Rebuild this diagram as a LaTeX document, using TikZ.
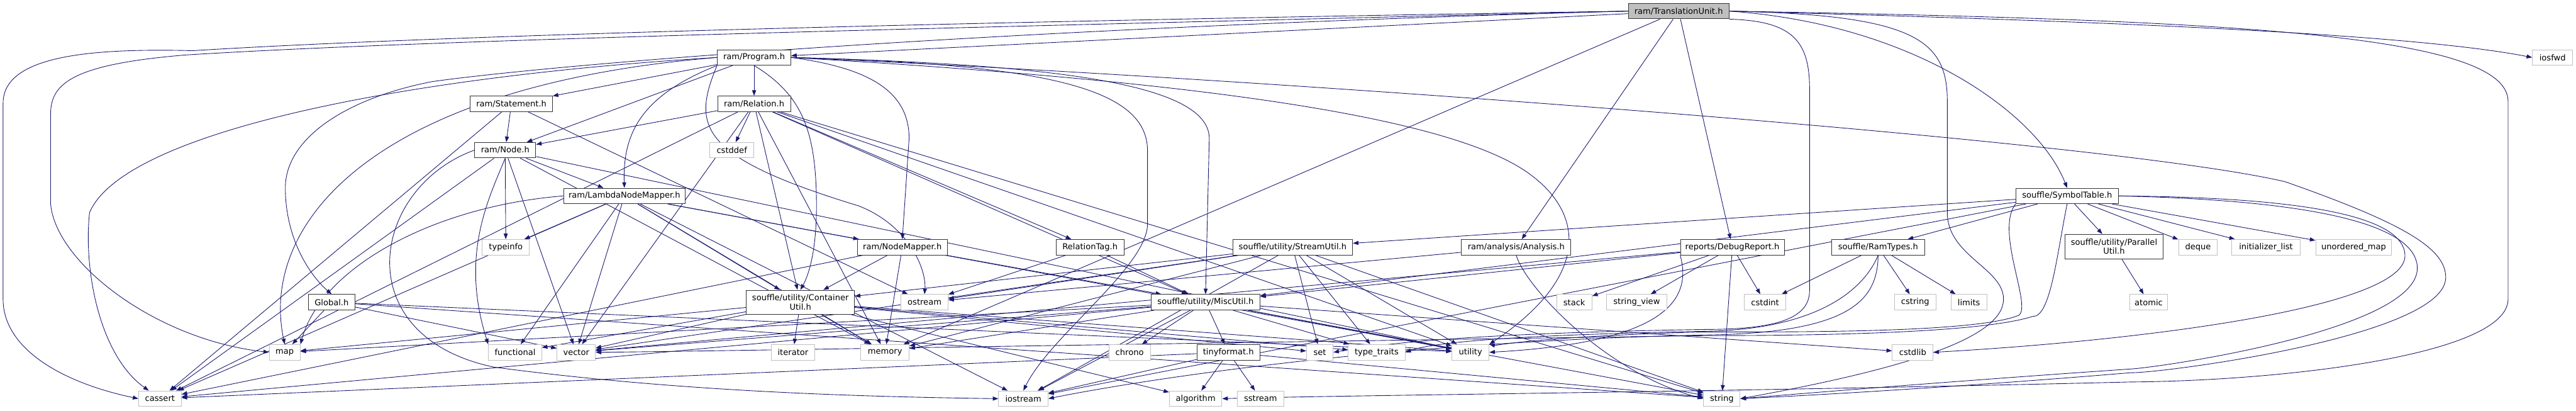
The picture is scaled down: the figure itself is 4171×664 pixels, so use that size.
\documentclass[tikz,border=0pt]{standalone}
\usepackage{fontspec}
\setmainfont{DejaVu Sans}
\usetikzlibrary{arrows.meta, backgrounds}
\definecolor{edgeblue}{RGB}{25,25,112}
\definecolor{sysgray}{RGB}{191,191,191}

\begin{document}
\begin{tikzpicture}[x=1pt, y=1pt,
    font=\fontsize{13.3}{14.5}\selectfont,
    file/.style={draw=black!80, fill=white, line width=1pt, minimum height=25pt, inner sep=0pt, align=center},
    sysfile/.style={file, draw=sysgray},
    rootfile/.style={file, fill=sysgray},
    dep/.style={edgeblue, line width=0.9pt, -{Triangle[length=9pt, width=6.5pt]}}
]
\useasboundingbox (0,0) rectangle (4171,664);

% ============ RANKS 0-4 ============
\node[rootfile, minimum width=163pt] (tu) at (2718,646) {ram/TranslationUnit.h};

\node[file, minimum width=119pt] (prog)   at (1221,571) {ram/Program.h};
\node[sysfile, minimum width=65pt] (iosfwd) at (4133,571) {iosfwd};

\node[file, minimum width=133pt] (stmt)   at (828,496)  {ram/Statement.h};
\node[file, minimum width=118pt] (rel)    at (1221,496) {ram/Relation.h};

\node[file, minimum width=99pt]  (node)   at (818,421)  {ram/Node.h};
\node[sysfile, minimum width=71pt] (cstddef) at (1185,421) {cstddef};

\node[file, minimum width=197pt] (lnm)    at (1011,347) {ram/LambdaNodeMapper.h};
\node[file, minimum width=166pt] (symtab) at (3347,347) {souffle/SymbolTable.h};

% ============ RANK 5 ============
\node[sysfile, minimum width=76pt] (typeinfo) at (819,264) {typeinfo};
\node[file, minimum width=146pt] (nmap)     at (1461,264) {ram/NodeMapper.h};
\node[file, minimum width=110pt] (reltag)   at (1765,264) {RelationTag.h};
\node[file, minimum width=194pt] (streamu)  at (2093,264) {souffle/utility/StreamUtil.h};
\node[file, minimum width=177pt] (analysis) at (2455,264) {ram/analysis/Analysis.h};
\node[file, minimum width=168pt] (dbgrep)   at (2805,264) {reports/DebugReport.h};
\node[file, minimum width=150pt] (ramtypes) at (3041,264) {souffle/RamTypes.h};
\node[file, minimum width=159pt, minimum height=40pt] (parutil) at (3423,265) {souffle/utility/Parallel\\Util.h};
\node[sysfile, minimum width=63pt]  (deque)    at (3559,264) {deque};
\node[sysfile, minimum width=111pt] (initlist) at (3669,264) {initializer\_list};
\node[sysfile, minimum width=123pt] (umap)     at (3811,264) {unordered\_map};

% ============ RANK 6 ============
\node[file, minimum width=76pt]  (global)  at (537,175)  {Global.h};
\node[file, minimum width=175pt, minimum height=39pt] (contu) at (1296,175) {souffle/utility/Container\\Util.h};
\node[sysfile, minimum width=76pt] (ostream) at (1497,175) {ostream};
\node[file, minimum width=176pt] (miscu)   at (1952,175) {souffle/utility/MiscUtil.h};
\node[sysfile, minimum width=57pt] (stack)   at (2549,175) {stack};
\node[sysfile, minimum width=97pt] (strview) at (2650,175) {string\_view};
\node[sysfile, minimum width=67pt] (cstdint) at (2858,175) {cstdint};
\node[sysfile, minimum width=67pt] (cstring) at (3101,175) {cstring};
\node[sysfile, minimum width=58pt] (limits)  at (3188,175) {limits};
\node[sysfile, minimum width=62pt] (atomic)  at (3479,175) {atomic};

% ============ RANKS 7-8 ============
\node[sysfile, minimum width=50pt]  (map)        at (461,94)  {map};
\node[sysfile, minimum width=86pt]  (functional) at (834,94)  {functional};
\node[sysfile, minimum width=62pt]  (vector)     at (933,94)  {vector};
\node[sysfile, minimum width=71pt]  (iterator)   at (1284,94) {iterator};
\node[sysfile, minimum width=78pt]  (memory)     at (1433,94) {memory};
\node[sysfile, minimum width=67pt]  (chrono)     at (1829,94) {chrono};
\node[file, minimum width=102pt]    (tinyf)      at (1989,94) {tinyformat.h};
\node[sysfile, minimum width=43pt]  (set)        at (2137,94) {set};
\node[sysfile, minimum width=92pt]  (typetr)     at (2229,94) {type\_traits};
\node[sysfile, minimum width=60pt]  (utility)    at (2381,94) {utility};
\node[sysfile, minimum width=66pt]  (cstdlib)    at (3097,94) {cstdlib};

\node[sysfile, minimum width=69pt] (cassert)   at (259,19)  {cassert};
\node[sysfile, minimum width=80pt] (iostream)  at (1657,19) {iostream};
\node[sysfile, minimum width=85pt] (algorithm) at (1936,19) {algorithm};
\node[sysfile, minimum width=75pt] (sstream)   at (2041,19) {sstream};
\node[sysfile, minimum width=59pt] (string)    at (2788,19) {string};

\begin{scope}[on background layer]
  % ram/TranslationUnit.h
  \draw[dep] (tu.west) .. controls (1500,628) and (700,606) .. (312,582) .. controls (150,586) and (5,575) .. (5,497) -- (5,180) .. controls (5,100) and (100,45) .. (cassert.west);
  \draw[dep] (tu.west) .. controls (1500,618) and (700,600) .. (300,575) .. controls (120,560) and (82,530) .. (82,480) -- (82,334) .. controls (90,240) and (250,115) .. (map.west);
  \draw[dep] (tu.west) .. controls (1600,618) and (900,560) .. (700,532) .. controls (560,505) and (462,440) .. (462,360) .. controls (462,280) and (500,220) .. (global.north);
  \draw[dep] (tu) -- (prog); \draw[dep] (tu) -- (analysis);
  \draw[dep] (tu) -- (dbgrep); \draw[dep] (tu) -- (memory);
  \draw[dep] (tu.east) .. controls (3100,625) and (3300,480) .. (symtab.north);
  \draw[dep] (tu.east) .. controls (3400,630) and (3900,610) .. (iosfwd.west);
  \draw[dep] (tu.south east) .. controls (2900,630) and (2930,600) .. (2930,520) -- (2930,194) .. controls (2930,150) and (2880,131) .. (2760,131) .. controls (2400,125) and (2250,110) .. (set.east);
  \draw[dep] (tu.east) .. controls (3100,640) and (3153,600) .. (3153,500) -- (3153,320) .. controls (3153,250) and (3244,230) .. (3244,180) .. controls (3244,120) and (3100,70) .. (string.east);
  \draw[dep] (tu.east) .. controls (3600,632) and (4061,610) .. (4061,500) -- (4061,180) .. controls (4061,90) and (3700,48) .. (3450,46) .. controls (2800,30) and (2200,25) .. (algorithm.east);

  % ram/Program.h
  \draw[dep] (prog) -- (stmt); \draw[dep] (prog) -- (rel);
  \draw[dep] (prog) -- (node);
  \draw[dep] (prog.south west) .. controls (1040,510) and (1008,450) .. (lnm.north);
  \draw[dep] (prog.west) .. controls (650,540) and (200,450) .. (145,320) .. controls (135,230) and (160,90) .. (cassert);
  \draw[dep] (prog.west) .. controls (600,525) and (420,300) .. (map.north);
  \draw[dep] (prog.east) .. controls (1400,555) and (1472,520) .. (1472,440) -- (nmap.north);
  \draw[dep] (prog.south) .. controls (1300,510) and (1322,450) .. (1322,330) .. controls (1322,260) and (1310,220) .. (contu.north);
  \draw[dep] (prog.south west) .. controls (1120,460) and (1130,410) .. (1390,331) .. controls (1470,300) and (1500,230) .. (ostream.north);
  \draw[dep] (prog.east) .. controls (1700,560) and (1958,530) .. (1958,440) -- (miscu.north);
  \draw[dep] (prog.east) .. controls (1700,560) and (1858,520) .. (1858,420) -- (1858,300) .. controls (1855,230) and (1700,120) .. (iostream.north);
  \draw[dep] (prog.east) .. controls (1900,535) and (2350,480) .. (2480,380) .. controls (2560,320) and (2580,220) .. (utility.north east);
  \draw[dep] (prog.east) .. controls (2000,540) and (3400,440) .. (3700,370) .. controls (3900,300) and (3960,260) .. (3960,215) .. controls (3960,120) and (3500,60) .. (3450,61) .. controls (3200,40) and (2950,25) .. (string.east);

  % ram/Statement.h, ram/Relation.h
  \draw[dep] (stmt) -- (node); \draw[dep] (stmt) -- (cassert);
  \draw[dep] (stmt) -- (ostream);
  \draw[dep] (rel) -- (node); \draw[dep] (rel) -- (cstddef);
  \draw[dep] (rel) -- (reltag); \draw[dep] (rel) -- (contu);
  \draw[dep] (rel) -- (miscu); \draw[dep] (rel) -- (memory);
  \draw[dep] (rel) -- (string); \draw[dep] (rel) -- (utility);
  \draw[dep] (rel) -- (vector); \draw[dep] (rel) -- (cassert);

  % ram/Node.h, ram/LambdaNodeMapper.h, ram/NodeMapper.h
  \draw[dep] (node) -- (lnm); \draw[dep] (node) -- (typeinfo);
  \draw[dep] (node) -- (cassert); \draw[dep] (node) -- (vector);
  \draw[dep] (node) -- (utility); \draw[dep] (node) -- (memory);
  \draw[dep] (node.south) .. controls (790,340) and (745,250) .. (functional.north west);
  \draw[dep] (node.west) .. controls (600,360) and (560,120) .. (800,70) .. controls (1100,30) and (1400,22) .. (iostream.west);
  \draw[dep] (lnm) -- (nmap); \draw[dep] (lnm) -- (contu);
  \draw[dep] (lnm) -- (cassert); \draw[dep] (lnm) -- (functional);
  \draw[dep] (lnm) -- (memory); \draw[dep] (lnm) -- (typeinfo);
  \draw[dep] (lnm) -- (utility); \draw[dep] (lnm) -- (vector);
  \draw[dep] (lnm) -- (iostream);
  \draw[dep] (lnm.west) .. controls (700,330) and (520,230) .. (map.north east);
  \draw[dep] (nmap) -- (contu); \draw[dep] (nmap) -- (miscu);
  \draw[dep] (nmap) -- (memory); \draw[dep] (nmap) -- (cassert);

  % RelationTag.h, Global.h
  \draw[dep] (reltag) -- (ostream); \draw[dep] (reltag) -- (miscu);
  \draw[dep] (global) -- (map); \draw[dep] (global) -- (string);
  \draw[dep] (global) -- (utility); \draw[dep] (global) -- (vector);

  % souffle/utility/*
  \draw[dep] (contu) -- (algorithm); \draw[dep] (contu) -- (functional);
  \draw[dep] (contu) -- (iterator); \draw[dep] (contu) -- (map);
  \draw[dep] (contu) -- (memory); \draw[dep] (contu) -- (set);
  \draw[dep] (contu) -- (typetr); \draw[dep] (contu) -- (utility);
  \draw[dep] (contu) -- (vector);
  \draw[dep] (miscu) -- (tinyf); \draw[dep] (miscu) -- (cassert);
  \draw[dep] (miscu) -- (chrono); \draw[dep] (miscu) -- (cstdlib);
  \draw[dep] (miscu) -- (iostream); \draw[dep] (miscu) -- (memory);
  \draw[dep] (miscu) -- (string); \draw[dep] (miscu) -- (typetr);
  \draw[dep] (miscu) -- (utility); \draw[dep] (miscu) -- (vector);
  \draw[dep] (miscu) -- (map);
  \draw[dep] (tinyf) -- (algorithm); \draw[dep] (tinyf) -- (cassert);
  \draw[dep] (tinyf) -- (iostream); \draw[dep] (tinyf) -- (sstream);
  \draw[dep] (tinyf) -- (string);
  \draw[dep] (streamu) -- (contu); \draw[dep] (streamu) -- (iostream);
  \draw[dep] (streamu) -- (memory); \draw[dep] (streamu) -- (ostream);
  \draw[dep] (streamu) -- (set); \draw[dep] (streamu) -- (string);
  \draw[dep] (streamu) -- (typetr); \draw[dep] (streamu) -- (utility);
  \draw[dep] (streamu) -- (vector);
  \draw[dep] (parutil) -- (atomic);

  % ram/analysis/Analysis.h, reports/DebugReport.h
  \draw[dep] (analysis) -- (ostream);
  \draw[dep] (analysis.south) .. controls (2470,200) and (2600,60) .. (string.west);
  \draw[dep] (dbgrep) -- (miscu); \draw[dep] (dbgrep) -- (stack);
  \draw[dep] (dbgrep) -- (strview); \draw[dep] (dbgrep) -- (cstdint);
  \draw[dep] (dbgrep) -- (string); \draw[dep] (dbgrep) -- (vector);
  \draw[dep] (dbgrep.south west) .. controls (2740,180) and (2700,110) .. (utility.east);

  % souffle/SymbolTable.h, souffle/RamTypes.h
  \draw[dep] (symtab) -- (ramtypes); \draw[dep] (symtab) -- (parutil);
  \draw[dep] (symtab) -- (streamu); \draw[dep] (symtab) -- (miscu);
  \draw[dep] (symtab) -- (deque); \draw[dep] (symtab) -- (initlist);
  \draw[dep] (symtab) -- (umap); \draw[dep] (symtab) -- (iostream);
  \draw[dep] (symtab.east) .. controls (3700,345) and (3894,320) .. (3894,250) .. controls (3894,170) and (3500,115) .. (cstdlib.east);
  \draw[dep] (symtab.east) .. controls (3750,340) and (3914,300) .. (3914,230) .. controls (3914,130) and (3500,70) .. (3450,67) .. controls (3200,50) and (2950,30) .. (string.east);
  \draw[dep] (symtab.south west) .. controls (3230,290) and (3290,170) .. (3269,154) .. controls (3200,125) and (2900,127) .. (2760,127) .. controls (2500,120) and (2420,105) .. (utility.north east);
  \draw[dep] (symtab.south) .. controls (3330,250) and (3320,150) .. (3291,152) .. controls (3200,123) and (2900,121) .. (2760,121) .. controls (2000,110) and (1100,95) .. (vector.east);
  \draw[dep] (ramtypes) -- (cstdint); \draw[dep] (ramtypes) -- (cstring);
  \draw[dep] (ramtypes) -- (limits);
  \draw[dep] (ramtypes.south) .. controls (3020,200) and (2950,131) .. (2760,128) .. controls (2450,122) and (2320,110) .. (typetr.east);
  \draw[dep] (ramtypes.south) .. controls (3040,180) and (3000,125) .. (2760,122) .. controls (2200,110) and (1800,40) .. (iostream.east);
\end{scope}

\end{tikzpicture}
\end{document}
